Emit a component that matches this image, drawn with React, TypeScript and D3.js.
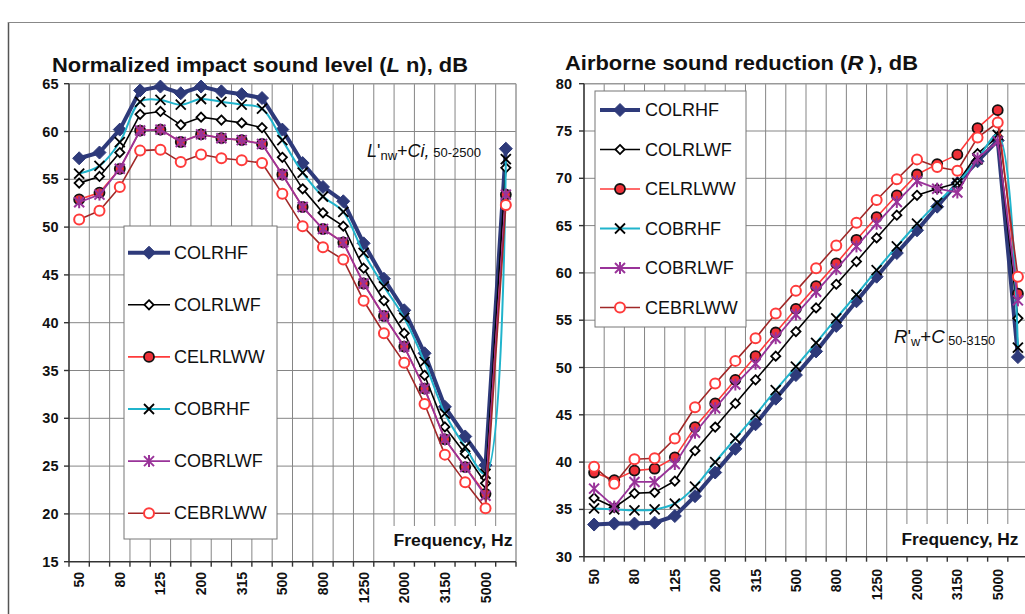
import React from 'react';
import * as d3 from 'd3';

const categories = ['50','63','80','100','125','160','200','250','315','400','500','630','800','1000','1250','1600','2000','2500','3150','4000','5000','Rating'];
const tickLabels = ['50','80','125','200','315','500','800','1250','2000','3150','5000'];
const seriesNames = ['COLRHF','COLRLWF','CELRLWW','COBRHF','COBRLWF','CEBRLWW'];

// Normalized impact sound level (L'n), dB
const impactCOLRHF = [57.2,57.8,60.2,64.3,64.7,64.0,64.7,64.2,63.9,63.5,60.2,56.7,54.2,52.7,48.3,44.6,41.3,36.8,31.2,28.1,25.1,58.2];
const impactCOLRLWF = [54.6,55.3,57.8,61.8,62.1,60.7,61.5,61.2,60.9,60.4,57.3,54.0,51.5,50.1,45.7,42.3,38.9,34.5,29.1,26.3,23.2,56.2];
const impactCELRLWW = [52.9,53.6,56.1,60.1,60.2,58.9,59.7,59.3,59.1,58.7,55.5,52.1,49.8,48.4,44.1,40.7,37.5,33.1,27.8,24.9,22.1,53.4];
const impactCOBRHF = [55.6,56.4,58.9,63.1,63.3,62.8,63.4,63.1,62.8,62.4,59.1,55.7,53.2,51.6,47.3,43.8,40.5,35.9,30.5,27.0,24.2,57.1];
const impactCOBRLWF = [52.6,53.4,56.1,60.1,60.2,58.9,59.7,59.3,59.1,58.7,55.5,52.1,49.8,48.4,44.1,40.7,37.5,33.1,27.8,24.9,21.9,53.4];
const impactCEBRLWW = [50.8,51.7,54.2,58.0,58.1,56.8,57.6,57.2,57.0,56.7,53.5,50.1,47.9,46.6,42.3,38.9,35.8,31.5,26.2,23.3,20.6,52.3];

// Airborne sound reduction (R), dB
const airCOLRHF = [33.4,33.5,33.5,33.6,34.3,36.4,38.9,41.4,44.0,46.7,49.2,51.7,54.4,57.0,59.6,62.1,64.5,67.0,69.5,71.8,74.0,51.1];
const airCOLRLWF = [36.2,35.2,36.7,36.8,38.0,41.2,43.7,46.2,48.7,51.2,53.8,56.3,58.8,61.2,63.7,66.1,68.2,68.9,69.5,72.6,74.4,55.2];
const airCELRLWW = [38.9,38.1,39.1,39.3,40.5,43.7,46.2,48.7,51.2,53.7,56.2,58.6,61.0,63.5,65.9,68.2,70.4,71.5,72.5,75.3,77.2,57.8];
const airCOBRHF = [35.1,35.0,34.9,35.0,35.6,37.4,40.0,42.5,45.0,47.6,50.1,52.6,55.2,57.7,60.3,62.8,65.2,67.4,69.5,72.0,74.6,52.1];
const airCOBRLWF = [37.2,35.3,37.9,37.9,39.8,43.1,45.7,48.2,50.4,53.1,55.6,58.0,60.4,62.8,65.2,67.5,69.7,68.9,68.5,72.1,73.9,57.1];
const airCEBRLWW = [39.5,37.7,40.3,40.4,42.5,45.8,48.3,50.7,53.1,55.7,58.1,60.5,62.9,65.3,67.7,69.9,72.0,71.2,70.8,74.3,75.9,59.6];

const impactTicks = [15,20,25,30,35,40,45,50,55,60,65];
const airTicks = [30,35,40,45,50,55,60,65,70,75,80];

const FONT = '"Liberation Sans", Arial, sans-serif';

const seriesStyle: Record<string, any> = {
  COLRHF: { color: '#2E3A7A', width: 4, marker: 'diamondFilled', curve: false },
  COLRLWF: { color: '#000000', width: 1.6, marker: 'diamondOpen', curve: false },
  CELRLWW: { color: '#FF3A3A', width: 1.6, marker: 'circleRed', curve: false },
  COBRHF: { color: '#20B4CC', width: 2, marker: 'x', curve: true },
  COBRLWF: { color: '#993399', width: 1.8, marker: 'star', curve: false },
  CEBRLWW: { color: '#A02828', width: 1.6, marker: 'circleOpen', curve: false },
};

function Marker({ type, x, y }: { type: string; x: number; y: number }) {
  if (type === 'diamondFilled') {
    const s = 6.5;
    return <path d={`M${x},${y - s}L${x + s},${y}L${x},${y + s}L${x - s},${y}Z`} fill="#2E3A7A" stroke="#2E3A7A" strokeWidth={1} />;
  }
  if (type === 'diamondOpen') {
    const s = 4.6;
    return <path d={`M${x},${y - s}L${x + s},${y}L${x},${y + s}L${x - s},${y}Z`} fill="#fff" stroke="#000" strokeWidth={1.8} />;
  }
  if (type === 'circleRed') {
    return <circle cx={x} cy={y} r={5} fill="#EE3038" stroke="#111" strokeWidth={1.8} />;
  }
  if (type === 'circleOpen') {
    return <circle cx={x} cy={y} r={5} fill="#fff" stroke="#FF3B3B" strokeWidth={2} />;
  }
  if (type === 'x') {
    const s = 5;
    return (
      <g stroke="#000" strokeWidth={1.8}>
        <line x1={x - s} y1={y - s} x2={x + s} y2={y + s} />
        <line x1={x - s} y1={y + s} x2={x + s} y2={y - s} />
      </g>
    );
  }
  if (type === 'star') {
    const s = 5;
    return (
      <g stroke="#993399" strokeWidth={2}>
        <line x1={x - s} y1={y - s} x2={x + s} y2={y + s} />
        <line x1={x - s} y1={y + s} x2={x + s} y2={y - s} />
        <line x1={x} y1={y - s - 1} x2={x} y2={y + s + 1} />
      </g>
    );
  }
  return null;
}

type ChartProps = {
  left: number; right: number; top: number; bottom: number;
  yDomain: [number, number]; yTicks: number[];
  data: number[][];
  legend: { x0: number; x1: number; y0: number; y1: number; firstY: number; step: number; lx0: number; lx1: number; tx: number };
  yLabelX: number; xLabelY: number;
  freqBox: { x: number; y: number; w: number; h: number; tx: number; ty: number; tl: number };
};

function Chart(p: ChartProps) {
  const x = d3.scaleBand<string>().domain(categories).range([p.left, p.right]).paddingInner(0).paddingOuter(0);
  const y = d3.scaleLinear().domain(p.yDomain).range([p.bottom, p.top]);
  const bw = x.bandwidth();
  const cx = (c: string) => (x(c) as number) + bw / 2;
  const boundaries = d3.range(0, categories.length + 1).map((i) => p.left + i * bw);

  return (
    <g>
      {p.yTicks.slice(1, -1).map((t) => (
        <line key={'h' + t} x1={p.left} x2={p.right} y1={y(t)} y2={y(t)} stroke="#858585" strokeWidth={1} />
      ))}
      {boundaries.slice(1, -1).map((bx, i) => (
        <line key={'v' + i} x1={bx} x2={bx} y1={p.top} y2={p.bottom} stroke="#858585" strokeWidth={1} />
      ))}
      <line x1={p.left} x2={p.right} y1={p.top} y2={p.top} stroke="#999" strokeWidth={1.5} />
      <line x1={p.right} x2={p.right} y1={p.top} y2={p.bottom} stroke="#999" strokeWidth={1.5} />
      <rect x={p.freqBox.x} y={p.freqBox.y} width={p.freqBox.w} height={p.freqBox.h} fill="#fff" />
      <line x1={p.left} x2={p.left} y1={p.top} y2={p.bottom} stroke="#333" strokeWidth={1.6} />
      <line x1={p.left} x2={p.right} y1={p.bottom} y2={p.bottom} stroke="#333" strokeWidth={1.6} />
      {p.yTicks.map((t) => (
        <g key={'yt' + t}>
          <line x1={p.left - 5} x2={p.left} y1={y(t)} y2={y(t)} stroke="#333" strokeWidth={1.4} />
          <text x={p.yLabelX} y={y(t)} textAnchor="end" dominantBaseline="central" fontFamily={FONT} fontWeight="bold" fontSize={14.5} fill="#111">{t}</text>
        </g>
      ))}
      {boundaries.map((bx, i) => (
        <line key={'xt' + i} x1={bx} x2={bx} y1={p.bottom} y2={p.bottom + 5} stroke="#333" strokeWidth={1.4} />
      ))}
      {tickLabels.map((c) => (
        <text key={'xl' + c} transform={`translate(${cx(c)},${p.xLabelY}) rotate(-90)`} textAnchor="end" dominantBaseline="central" fontFamily={FONT} fontWeight="bold" fontSize={14} fill="#111">{c}</text>
      ))}
      <text x={p.freqBox.tx} y={p.freqBox.ty} fontFamily={FONT} fontWeight="bold" fontSize={16} textLength={p.freqBox.tl} lengthAdjust="spacingAndGlyphs" fill="#111">Frequency, Hz</text>
      {seriesNames.map((name, si) => {
        const st = seriesStyle[name];
        const vals = p.data[si];
        const pts: [number, number][] = vals.map((v, i) => [cx(categories[i]), y(v)]);
        const gen = d3.line().curve(st.curve ? d3.curveCatmullRom.alpha(0.5) : d3.curveLinear);
        return (
          <g key={name}>
            <path d={gen(pts) as string} fill="none" stroke={st.color} strokeWidth={st.width} strokeLinejoin="round" />
            {pts.map((pt, i) => <Marker key={i} type={st.marker} x={pt[0]} y={pt[1]} />)}
          </g>
        );
      })}
      <rect x={p.legend.x0} y={p.legend.y0} width={p.legend.x1 - p.legend.x0} height={p.legend.y1 - p.legend.y0} fill="#fff" stroke="#777" strokeWidth={1} />
      {seriesNames.map((name, i) => {
        const st = seriesStyle[name];
        const ly = p.legend.firstY + i * p.legend.step;
        return (
          <g key={'lg' + name}>
            <line x1={p.legend.lx0} x2={p.legend.lx1} y1={ly} y2={ly} stroke={st.color} strokeWidth={st.width} />
            <Marker type={st.marker} x={(p.legend.lx0 + p.legend.lx1) / 2} y={ly} />
            <text x={p.legend.tx} y={ly} dominantBaseline="central" fontFamily={FONT} fontSize={18} fill="#111">{name}</text>
          </g>
        );
      })}
    </g>
  );
}

export default function App() {
  return (
    <svg width={1025} height={614} style={{ position: 'absolute', left: 0, top: 0, background: '#fff' }}>
      <rect x={0} y={0} width={1025} height={614} fill="#fff" />
      <line x1={8.5} x2={8.5} y1={22} y2={614} stroke="#555" strokeWidth={1.5} />
      <line x1={8} x2={1025} y1={22.5} y2={22.5} stroke="#888" strokeWidth={1} />

      <text x={52} y={72} fontFamily={FONT} fontWeight="bold" fontSize={19.5} textLength={416} lengthAdjust="spacingAndGlyphs" fill="#111">
        Normalized impact sound level (<tspan fontStyle="italic">L</tspan> n), dB
      </text>
      <Chart
        left={69} right={516} top={83.7} bottom={561.7}
        yDomain={[15, 65]} yTicks={impactTicks}
        data={[impactCOLRHF, impactCOLRLWF, impactCELRLWW, impactCOBRHF, impactCOBRLWF, impactCEBRLWW]}
        legend={{ x0: 124, x1: 277, y0: 226, y1: 539, firstY: 252.7, step: 52.1, lx0: 128, lx1: 170, tx: 174 }}
        yLabelX={58.5} xLabelY={572}
        freqBox={{ x: 388, y: 526, w: 127, h: 35, tx: 393.5, ty: 546, tl: 119 }}
      />
      <text x={367} y={157} fontFamily={FONT} fontSize={18} fill="#111" textLength={114} lengthAdjust="spacingAndGlyphs">
        <tspan fontStyle="italic">L</tspan>
        <tspan>'</tspan>
        <tspan fontSize={13} dy={3}>nw</tspan>
        <tspan dy={-3}>+</tspan>
        <tspan fontStyle="italic">Ci,</tspan>
        <tspan fontSize={13}> 50-2500</tspan>
      </text>

      <text x={565} y={70} fontFamily={FONT} fontWeight="bold" fontSize={19.5} textLength={353} lengthAdjust="spacingAndGlyphs" fill="#111">
        Airborne sound reduction (<tspan fontStyle="italic">R</tspan> ), dB
      </text>
      <Chart
        left={584} right={1028} top={83.7} bottom={556.7}
        yDomain={[30, 80]} yTicks={airTicks}
        data={[airCOLRHF, airCOLRLWF, airCELRLWW, airCOBRHF, airCOBRLWF, airCEBRLWW]}
        legend={{ x0: 595, x1: 746, y0: 91, y1: 327, firstY: 110, step: 39.5, lx0: 600, lx1: 640, tx: 645 }}
        yLabelX={572} xLabelY={569}
        freqBox={{ x: 896, y: 524, w: 132, h: 32, tx: 901.5, ty: 545, tl: 117 }}
      />
      <text x={894} y={343} fontFamily={FONT} fontSize={19} fill="#111" textLength={101} lengthAdjust="spacingAndGlyphs">
        <tspan fontStyle="italic">R</tspan>
        <tspan>'</tspan>
        <tspan fontSize={13} dy={3}>w</tspan>
        <tspan dy={-3}>+</tspan>
        <tspan fontStyle="italic">C</tspan>
        <tspan fontSize={13} dy={2}> 50-3150</tspan>
      </text>
    </svg>
  );
}
